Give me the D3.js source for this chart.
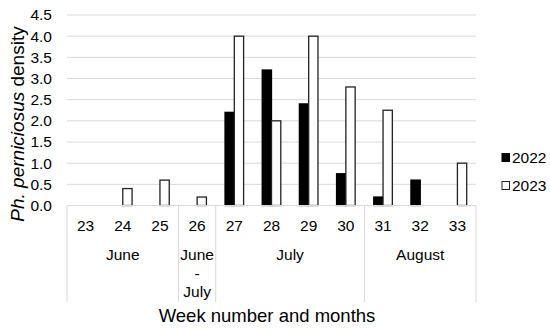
<!DOCTYPE html>
<html>
<head>
<meta charset="utf-8">
<script src="https://cdn.jsdelivr.net/npm/d3@7"></script>
<style>
  html, body { margin: 0; padding: 0; background: #fff; }
  svg { display: block; font-family: "Liberation Sans", Arial, sans-serif; }
</style>
</head>
<body>
<svg id="chart" width="550" height="328"></svg>
<script>
const weeks = ["23","24","25","26","27","28","29","30","31","32","33"];
const series = ["2022","2023"];
const values2022 = [0, 0, 0, 0, 2.2, 3.2, 2.4, 0.75, 0.2, 0.6, 0];
const values2023 = [0, 0.4, 0.6, 0.2, 4.0, 2.0, 4.0, 2.8, 2.25, 0, 1.0];
const yTicks = [0, 0.5, 1.0, 1.5, 2.0, 2.5, 3.0, 3.5, 4.0, 4.5];
const monthLabels = [["June"], ["June", "-", "July"], ["July"], ["August"]];
const monthSpans = [[0, 3], [3, 4], [4, 8], [8, 11]];

(function () {
const svg = d3.select("#chart");
const pLeft = 67, pRight = 476, pTop = 15, pBottom = 205.5;
const textColor = "#000";
const gridColor = "#d9d9d9";

const x = d3.scaleBand().domain(weeks).range([pLeft, pRight]).paddingInner(0).paddingOuter(0);
const bw = x.bandwidth();
const xs = d3.scaleBand().domain(series).range([bw * 0.25, bw * 0.75]);
const y = d3.scaleLinear().domain([0, 4.5]).range([pBottom, pTop]);

// gridlines
svg.append("g").selectAll("line").data(yTicks.filter(d => d > 0)).join("line")
  .attr("x1", pLeft).attr("x2", pRight)
  .attr("y1", d => y(d)).attr("y2", d => y(d))
  .attr("stroke", gridColor).attr("stroke-width", 1);

// y axis labels
const yAxis = d3.axisLeft(y).tickValues(yTicks).tickFormat(d3.format(".1f")).tickSize(0).tickPadding(0);
const ga = svg.append("g").attr("transform", `translate(52,0)`).call(yAxis);
ga.select(".domain").remove();
ga.selectAll("text").attr("font-size", "15.5px").attr("fill", textColor)
  .attr("font-family", "'Liberation Sans', Arial, sans-serif");

// bars
const data = weeks.map((w, i) => ({ week: w, vals: [values2022[i], values2023[i]] }));
const g = svg.append("g");
data.forEach(d => {
  series.forEach((s, j) => {
    const v = d.vals[j];
    if (v <= 0) return;
    g.append("rect")
      .attr("x", x(d.week) + xs(s))
      .attr("y", y(v))
      .attr("width", xs.bandwidth())
      .attr("height", y(0) - y(v))
      .attr("fill", j === 0 ? "#000" : "#fff")
      .attr("stroke", j === 0 ? "#000" : "#222")
      .attr("stroke-width", 1.3);
  });
});

// category axis line
svg.append("line").attr("x1", pLeft).attr("x2", pRight).attr("y1", pBottom).attr("y2", pBottom)
  .attr("stroke", gridColor).attr("stroke-width", 1);

// separators
const sepIdx = [0, 3, 4, 8, 11];
svg.append("g").selectAll("line").data(sepIdx).join("line")
  .attr("x1", d => pLeft + d * bw).attr("x2", d => pLeft + d * bw)
  .attr("y1", pBottom).attr("y2", 302)
  .attr("stroke", gridColor).attr("stroke-width", 1);

// week labels
svg.append("g").selectAll("text").data(weeks).join("text")
  .attr("x", d => x(d) + bw / 2).attr("y", 230.5)
  .attr("text-anchor", "middle").attr("font-size", "15.5px").attr("fill", textColor)
  .text(d => d);

// month labels
monthLabels.forEach((lines, i) => {
  const cx = pLeft + (monthSpans[i][0] + monthSpans[i][1]) / 2 * bw;
  lines.forEach((t, k) => {
    svg.append("text").attr("x", cx).attr("y", 260 + k * 18.5)
      .attr("text-anchor", "middle").attr("font-size", "15.5px").attr("fill", textColor)
      .text(t);
  });
});

// x axis title
svg.append("text").attr("x", 267).attr("y", 322)
  .attr("text-anchor", "middle").attr("font-size", "18.5px").attr("fill", textColor)
  .text("Week number and months");

// y axis title
const yt = svg.append("text").attr("transform", "translate(24,124) rotate(-90)")
  .attr("text-anchor", "middle").attr("font-size", "19px").attr("fill", textColor);
yt.append("tspan").attr("font-style", "italic").text("Ph. perniciosus");
yt.append("tspan").text(" density");

// legend
const lg = svg.append("g");
series.forEach((s, j) => {
  const ly = 157.5 + j * 28;
  lg.append("rect").attr("x", 502).attr("y", ly - 4).attr("width", 7.5).attr("height", 8)
    .attr("fill", j === 0 ? "#000" : "#fff").attr("stroke", j === 0 ? "#000" : "#222").attr("stroke-width", 1);
  lg.append("text").attr("x", 512).attr("y", ly + 5.3).attr("font-size", "15.5px").attr("fill", textColor).text(s);
});
})();
</script>
</body>
</html>
